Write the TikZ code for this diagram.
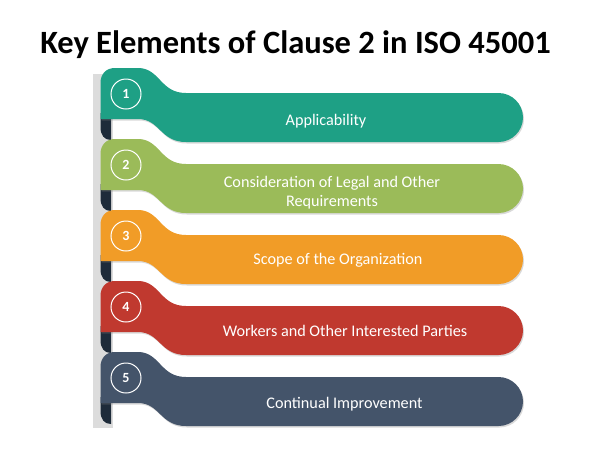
\documentclass[tikz,border=0pt]{standalone}
\usepackage{fontspec}
\setmainfont{Carlito}
\usetikzlibrary{shadows}
\definecolor{cA}{HTML}{1EA085}
\definecolor{cB}{HTML}{9BBB59}
\definecolor{cC}{HTML}{F19C27}
\definecolor{cD}{HTML}{C0392F}
\definecolor{cE}{HTML}{44546A}
\definecolor{curlcol}{HTML}{1E2B3A}
\definecolor{railcol}{HTML}{DCDCDC}
\begin{document}
\begin{tikzpicture}[x=1pt,y=-1pt,
  band/.style={fill=#1, drop shadow={shadow xshift=1pt,shadow yshift=-1.5pt,opacity=0.3}},
  numring/.style={circle,draw=white,line width=1pt,minimum size=30pt,inner sep=0pt,text=white,font=\bfseries\fontsize{14}{16}\selectfont},
  itemtext/.style={text=white,align=center,font=\fontsize{16.2}{19.5}\selectfont}]
\useasboundingbox (0,0) rectangle (600,459);
\node[anchor=base,font=\bfseries\fontsize{32.5}{38}\selectfont] (title) at (295.5,53) {Key Elements of Clause 2 in ISO 45001};
\fill[railcol] (93,74) rectangle (113,428);
\foreach \i/\Y/\col/\xc/\ty/\txt in {1/93/cA/326/121/{Applicability}, 2/164/cB/332/192.5/{Consideration of Legal and Other\\Requirements}, 3/235/cC/338/260/{Scope of the Organization}, 4/306/cD/345/331/{Workers and Other Interested Parties}, 5/377/cE/344.5/404/{Continual Improvement}}{
  \fill[curlcol] (111,\Y+20) -- (111,\Y+47) .. controls (104,\Y+47) and (100.5,\Y+42) .. (100.5,\Y+34) -- (100.5,\Y+20) -- cycle;
  \path[band=\col] (100.5,\Y-10) .. controls (100.5,\Y-19) and (106,\Y-25) .. (115,\Y-25) -- (138,\Y-25) .. controls (160,\Y-25) and (160,\Y) .. (186,\Y) -- (498.5,\Y) .. controls (512,\Y) and (523,\Y+11) .. (523,\Y+24.5) .. controls (523,\Y+38) and (512,\Y+49) .. (498.5,\Y+49) -- (186,\Y+49) .. controls (160,\Y+49) and (160,\Y+26) .. (138,\Y+26) -- (100.5,\Y+26) -- cycle;
  \node[numring] (c\i) at (126,\Y+1) {\i};
  \node[itemtext] (t\i) at (\xc,\ty) {\txt};
}
\end{tikzpicture}
\end{document}
